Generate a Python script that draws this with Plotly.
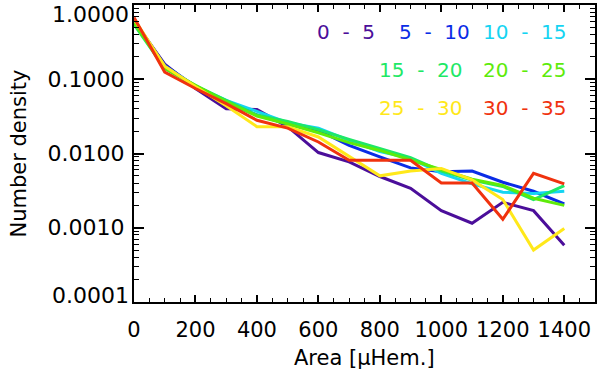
import plotly.graph_objects as go

area = [0, 100, 200, 300, 400, 500, 600, 700, 800, 900, 1000, 1100, 1200, 1300, 1400]

labels = ["0 - 5", "5 - 10", "10 - 15", "15 - 20", "20 - 25", "25 - 30", "30 - 35"]
colors = ["#4B0E9A", "#0A2CE6", "#14D4F2", "#1EE866", "#5EEB0A", "#FFE81A", "#F0320E"]

d_0_5 = [0.60, 0.160, 0.075, 0.040, 0.039, 0.023, 0.0103, 0.0077, 0.0049, 0.0034, 0.0017, 0.00115, 0.0022, 0.0017, 0.00058]
d_5_10 = [0.62, 0.155, 0.080, 0.048, 0.033, 0.025, 0.0205, 0.0129, 0.0090, 0.0064, 0.0057, 0.0058, 0.0041, 0.0031, 0.0021]
d_10_15 = [0.58, 0.150, 0.080, 0.052, 0.037, 0.026, 0.0220, 0.0150, 0.0106, 0.0086, 0.0054, 0.0039, 0.0030, 0.0029, 0.0031]
d_15_20 = [0.55, 0.140, 0.082, 0.052, 0.033, 0.027, 0.0210, 0.0155, 0.0117, 0.0088, 0.0058, 0.0044, 0.0036, 0.0024, 0.0037]
d_20_25 = [0.58, 0.140, 0.083, 0.050, 0.032, 0.025, 0.0190, 0.0140, 0.0110, 0.0082, 0.0060, 0.0045, 0.0037, 0.0025, 0.0020]
d_25_30 = [0.65, 0.150, 0.080, 0.044, 0.023, 0.023, 0.0167, 0.0092, 0.0050, 0.0058, 0.0063, 0.0044, 0.0024, 0.00050, 0.00098]
d_30_35 = [0.68, 0.125, 0.075, 0.047, 0.028, 0.022, 0.0143, 0.0081, 0.0081, 0.0081, 0.0040, 0.0040, 0.0013, 0.0054, 0.0039]
series = [d_0_5, d_5_10, d_10_15, d_15_20, d_20_25, d_25_30, d_30_35]

y_tickvals = [1.0, 0.1, 0.01, 0.001, 0.0001]
y_ticktext = ["1.0000", "0.1000", "0.0100", "0.0010", "0.0001"]
x_tickvals = [0, 200, 400, 600, 800, 1000, 1200, 1400]

FONT = "DejaVu Sans"

fig = go.Figure()
for lab, col, ys in zip(labels, colors, series):
    fig.add_trace(go.Scatter(x=area, y=ys, mode="lines", name=lab,
                             line=dict(color=col, width=3), showlegend=False))

# legend text (colored labels)
leg_pos = [(0.5228, 0.909), (0.7289, 0.909), (0.9393, 0.909),
           (0.7137, 0.781), (0.9393, 0.781),
           (0.7137, 0.653), (0.9393, 0.653)]
for lab, col, (px, py) in zip(labels, colors, leg_pos):
    a, b = lab.split(" - ")
    fig.add_annotation(x=px, y=py, xref="paper", yref="paper",
                       text=a + "\u00a0\u00a0-\u00a0\u00a0" + b, showarrow=False,
                       xanchor="right", yanchor="middle", xshift=2,
                       font=dict(family=FONT, size=20, color=col))

# end tick labels (kept inside frame like the original)
fig.add_annotation(x=0, y=0.0, xref="paper", yref="y", text=y_ticktext[0],
                   showarrow=False, xanchor="right", yanchor="top", xshift=-3, yshift=5,
                   font=dict(family=FONT, size=22, color="black"))
fig.add_annotation(x=0, y=-4.0, xref="paper", yref="y", text=y_ticktext[-1],
                   showarrow=False, xanchor="right", yanchor="bottom", xshift=-3, yshift=-8,
                   font=dict(family=FONT, size=22, color="black"))

# axis titles
fig.add_annotation(x=0.5, y=0, xref="paper", yref="paper", text="Area [\u03bcHem.]",
                   showarrow=False, xanchor="center", yanchor="middle", yshift=-56,
                   font=dict(family=FONT, size=21, color="black"))
fig.add_annotation(x=0, y=0.5, xref="paper", yref="paper", text="Number density",
                   showarrow=False, xanchor="center", yanchor="middle", xshift=-116,
                   textangle=-90, font=dict(family=FONT, size=21, color="black"))

fig.update_layout(
    width=600, height=376,
    margin=dict(l=134, r=5, t=5, b=74),
    plot_bgcolor="white", paper_bgcolor="white",
    font=dict(family=FONT, size=22, color="black"),
)
fig.update_xaxes(
    range=[0, 1500], tickmode="array", tickvals=x_tickvals,
    ticks="inside", ticklen=7, tickwidth=1.5, tickcolor="black",
    minor=dict(dtick=50, tick0=0, ticks="inside", ticklen=4, tickwidth=1.2, tickcolor="black"),
    showline=True, linewidth=2, linecolor="black", mirror="ticks",
    showgrid=False, zeroline=False, ticklabelstandoff=8, automargin=False,
    tickfont=dict(family=FONT, size=21),
)
fig.update_yaxes(
    type="log", range=[-4, 0], tickmode="array", tickvals=y_tickvals,
    ticktext=["", y_ticktext[1], y_ticktext[2], y_ticktext[3], ""],
    ticks="inside", ticklen=10, tickwidth=1.5, tickcolor="black",
    minor=dict(tickvals=[m * 10.0 ** e for e in range(-4, 0) for m in range(2, 10)],
               ticks="inside", ticklen=5, tickwidth=1.2, tickcolor="black"),
    showline=True, linewidth=2, linecolor="black", mirror="ticks",
    showgrid=False, zeroline=False, automargin=False, ticklabelstandoff=3,
    tickfont=dict(family=FONT, size=22),
)

fig.write_html("out.html", config={"displayModeBar": False},
               post_script="document.body.style.margin='0';")
